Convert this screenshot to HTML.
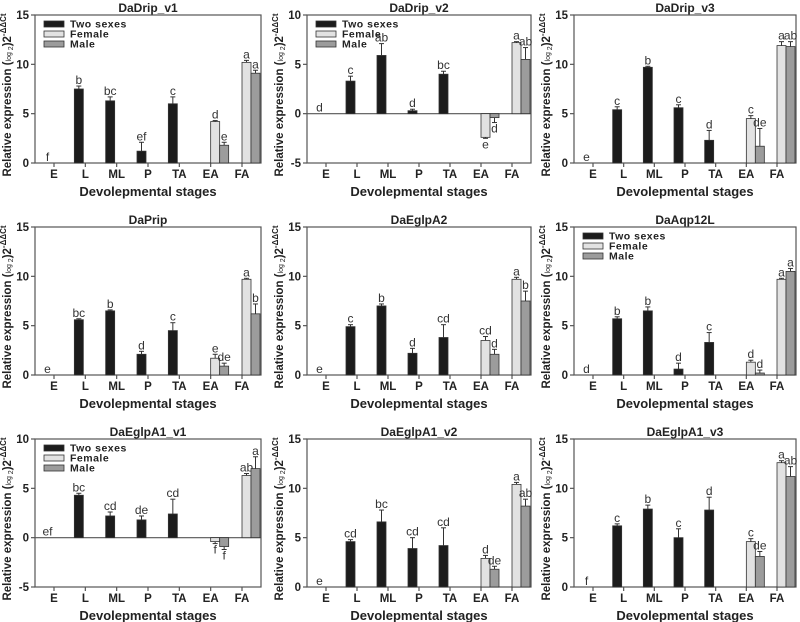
<!DOCTYPE html>
<html><head><meta charset="utf-8"><style>
html,body{margin:0;padding:0;background:#fff;width:800px;height:622px;overflow:hidden}
svg{display:block}
text{font-family:"Liberation Sans",Arial,sans-serif}
</style></head><body>
<svg id="fig" width="800" height="622" viewBox="0 0 800 622" xmlns="http://www.w3.org/2000/svg"></svg>
<script>
const categories=["E","L","ML","P","TA","EA","FA"];
const titles=["DaDrip_v1","DaDrip_v2","DaDrip_v3","DaPrip","DaEglpA2","DaAqp12L","DaEglpA1_v1","DaEglpA1_v2","DaEglpA1_v3"];
const yMins=[0,-5,0,0,0,0,-5,0,0];
const yMaxs=[15,10,15,15,15,15,10,15,15];
const showLegend=[true,true,false,false,false,true,true,false,false];
// two-sexes values for E,L,ML,P,TA
const blackMeans=[[0,7.5,6.3,1.2,6.0],[0,3.3,5.9,0.3,4.0],[0,5.4,9.7,5.6,2.3],[0,5.6,6.5,2.1,4.5],[0,4.9,7.0,2.2,3.8],[0,5.7,6.5,0.6,3.3],[0,4.3,2.2,1.8,2.4],[0,4.6,6.6,3.9,4.2],[0,6.2,7.9,5.0,7.8]];
const blackErr=[[0,0.3,0.4,0.9,0.7],[0,0.5,1.2,0.15,0.3],[0,0.3,0.1,0.3,1.0],[0,0.1,0.1,0.3,0.8],[0,0.2,0.2,0.5,1.3],[0,0.2,0.4,0.6,1.0],[0,0.2,0.4,0.4,1.5],[0,0.2,1.2,1.1,1.8],[0,0.2,0.4,0.9,1.3]];
const blackLetters=[["f","b","bc","ef","c"],["d","c","ab","d","bc"],["e","c","b","c","d"],["e","bc","b","d","c"],["e","c","b","d","cd"],["d","b","b","d","c"],["ef","bc","cd","de","cd"],["e","cd","bc","cd","cd"],["f","c","b","c","d"]];
// female / male values for EA, FA
const femaleMeans=[[4.2,10.2],[-2.4,7.2],[4.5,11.9],[1.7,9.7],[3.5,9.7],[1.3,9.7],[-0.4,6.3],[2.9,10.4],[4.6,12.6]];
const femaleErr=[[0.1,0.2],[0.1,0.1],[0.3,0.4],[0.4,0.1],[0.4,0.2],[0.2,0.1],[0.2,0.2],[0.3,0.2],[0.3,0.2]];
const femaleLetters=[["d","a"],["e","a"],["c","a"],["e","a"],["cd","a"],["d","a"],["f","ab"],["d","a"],["c","a"]];
const maleMeans=[[1.8,9.1],[-0.4,5.5],[1.7,11.8],[0.9,6.2],[2.1,7.5],[0.2,10.5],[-0.9,7.0],[1.8,8.2],[3.1,11.2]];
const maleErr=[[0.3,0.3],[0.5,1.2],[1.8,0.5],[0.3,1.0],[0.5,1.0],[0.3,0.3],[0.3,1.2],[0.3,0.7],[0.5,1.0]];
const maleLetters=[["e","a"],["d","ab"],["de","ab"],["de","b"],["d","b"],["d","a"],["f","a"],["de","ab"],["de","ab"]];
const yTicks=[[0,5,10,15],[-5,0,5,10]];

const NS="http://www.w3.org/2000/svg";
const svg=document.getElementById('fig');
function mk(tag,attrs,parent,txt){const e=document.createElementNS(NS,tag);for(const k in attrs)e.setAttribute(k,attrs[k]);if(txt!==undefined)e.textContent=txt;parent.appendChild(e);return e;}
const colLefts=[35,307,574],colWidths=[226,224,222],rowTops=[15,227,439],PH=148;
const colors={black:"#1c1c1c",female:"#e2e2e2",male:"#9c9c9c"};
for(let p=0;p<9;p++){
  const L=colLefts[p%3],W=colWidths[p%3],T=rowTops[Math.floor(p/3)];
  const g=mk('g',{},svg);
  
  
  const ymin=yMins[p],ymax=yMaxs[p];
  const y=v=>T+PH-(v-ymin)/(ymax-ymin)*PH;
  const cx=i=>L+19+i*(W-38)/6;
  const t=mk('text',{x:L+W/2,y:T-3,'text-anchor':'middle','font-size':12,'font-weight':'bold',fill:'#222'},g,titles[p]);
  
  
  const fr=mk('rect',{x:L,y:T,width:W,height:PH,fill:'none',stroke:'#555','stroke-width':1.2},g);
  
  
  if(ymin<0){const z=mk('line',{x1:L,x2:L+W,y1:y(0),y2:y(0),stroke:'#555','stroke-width':1.2},g);
    
    }
  const ticks=ymin<0?yTicks[1]:yTicks[0];
  ticks.forEach(v=>{mk('line',{x1:L-4,x2:L,y1:y(v),y2:y(v),stroke:'#555','stroke-width':1.2},g);
    const tl=mk('text',{x:L-6,y:y(v)+4,'text-anchor':'end','font-size':11.5,'font-weight':'bold',fill:'#222'},g,String(v));
    
    });
  categories.forEach((c,i)=>{mk('line',{x1:cx(i),x2:cx(i),y1:T+PH,y2:T+PH+4,stroke:'#555','stroke-width':1.2},g);
    const xl=mk('text',{x:cx(i),y:T+PH+15,'text-anchor':'middle','font-size':11.5,'font-weight':'bold',fill:'#222'},g,c);
    
    });
  const xt=mk('text',{x:L+W/2,y:T+PH+33,'text-anchor':'middle','font-size':13,'font-weight':'bold',fill:'#222'},g,'Devolepmental stages');
  
  
  const yt=mk('text',{transform:`translate(${L-24},${T+PH/2+6}) rotate(-90)`,'text-anchor':'middle','font-size':11.5,'font-weight':'bold',fill:'#222'},g);
  
  
  mk('tspan',{},yt,'Relative expression (');
  mk('tspan',{'font-size':7,'font-weight':'normal'},yt,'log');
  mk('tspan',{'font-size':7,'font-weight':'normal',dy:2},yt,' 2');
  mk('tspan',{dy:-2},yt,')2');
  mk('tspan',{'font-size':8,dy:-5},yt,'-ΔΔCt');
  function bar(x0,w,v,e,fill,letter,name){
    const yv=y(v),y0=y(0);
    if(v!==0){
      const r=mk('rect',{x:x0,y:Math.min(yv,y0),width:w,height:Math.abs(y0-yv),fill:fill,stroke:'#333','stroke-width':0.8},g);
      
      
    }
    const m=x0+w/2;let ly;
    if(v>=0){const ye=y(v+e);if(e>0){mk('line',{x1:m,x2:m,y1:yv,y2:ye,stroke:'#333','stroke-width':1},g);mk('line',{x1:m-2.5,x2:m+2.5,y1:ye,y2:ye,stroke:'#333','stroke-width':1},g);}ly=ye-2;}
    else{const ye=y(v-e);if(e>0){mk('line',{x1:m,x2:m,y1:yv,y2:ye,stroke:'#333','stroke-width':1},g);mk('line',{x1:m-2.5,x2:m+2.5,y1:ye,y2:ye,stroke:'#333','stroke-width':1},g);}ly=ye+10;}
    const lt=mk('text',{x:m,y:ly,'text-anchor':'middle','font-size':12,fill:'#333'},g,letter);
    
    
  }
  for(let i=0;i<5;i++){bar(cx(i)-11,9,blackMeans[p][i],blackErr[p][i],colors.black,blackLetters[p][i],'bar-two-sexes-'+categories[i].toLowerCase());}
  for(let j=0;j<2;j++){const i=5+j;
    bar(cx(i),9,femaleMeans[p][j],femaleErr[p][j],colors.female,femaleLetters[p][j],'bar-female-'+categories[i].toLowerCase());
    bar(cx(i)+9,9,maleMeans[p][j],maleErr[p][j],colors.male,maleLetters[p][j],'bar-male-'+categories[i].toLowerCase());}
  if(showLegend[p]){
    const lg=mk('g',{},g);
    
    
    [["Two sexes",colors.black],["Female",colors.female],["Male",colors.male]].forEach((it,k)=>{
      const yy=T+9+k*10;
      const sw=mk('rect',{x:L+9,y:yy-3,width:20,height:6,fill:it[1],stroke:'#333','stroke-width':0.8},lg);
      
      
      const tx=mk('text',{x:L+35,y:yy+3.5,'font-size':10.5,'font-weight':'bold',fill:'#222','letter-spacing':'0.5'},lg,it[0]);
      
      
    });
  }
}
</script>
</body></html>
